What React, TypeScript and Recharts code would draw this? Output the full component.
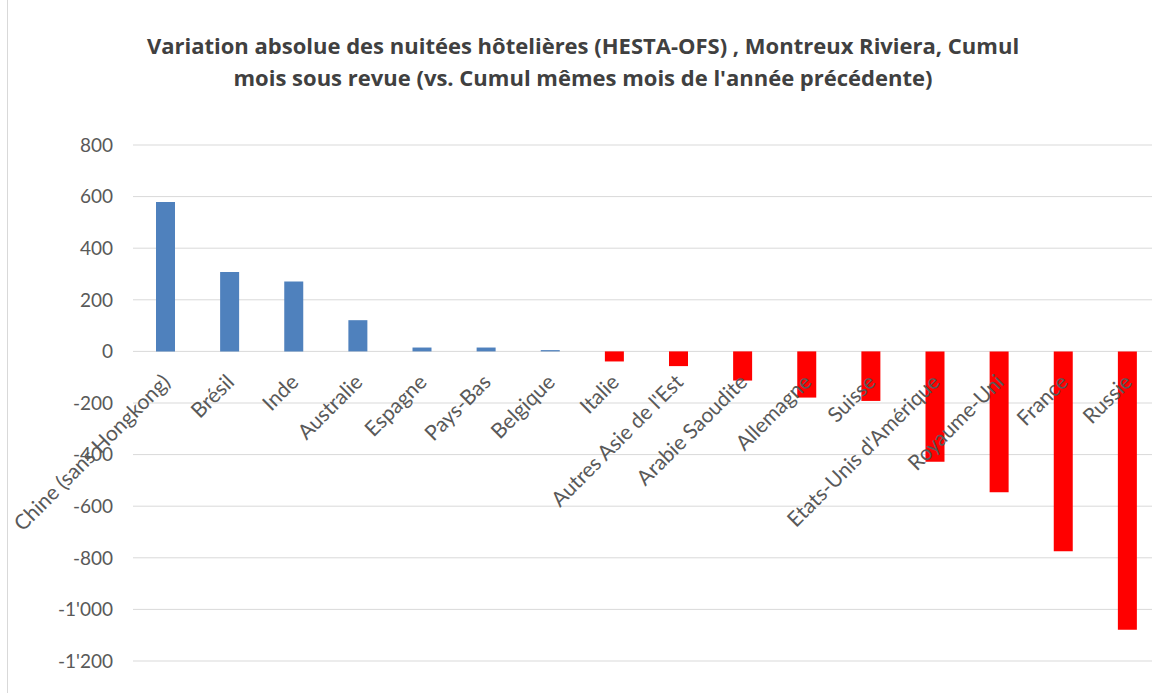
import React from "react";
import {
  BarChart,
  Bar,
  XAxis,
  YAxis,
  CartesianGrid,
  Cell,
  LabelList,
} from "recharts";

// Countries, sorted from largest gain to largest loss
const countries = [
  "Chine (sans Hongkong)",
  "Brésil",
  "Inde",
  "Australie",
  "Espagne",
  "Pays-Bas",
  "Belgique",
  "Italie",
  "Autres Asie de l'Est",
  "Arabie Saoudite",
  "Allemagne",
  "Suisse",
  "Etats-Unis d'Amérique",
  "Royaume-Uni",
  "France",
  "Russie",
];

// Absolute variation of hotel nights vs. same months of previous year
const variation = [
  579, 308, 271, 121, 15, 15, 5, -39, -57, -113, -179, -192, -428, -546, -775,
  -1079,
];

const yTicks = [-1200, -1000, -800, -600, -400, -200, 0, 200, 400, 600, 800];

const data = countries.map((name, i) => ({ name, value: variation[i] }));

const FONT = "Lato, 'Open Sans', sans-serif";
const TEXT = "#595959";

// Swiss style thousands separator: -1'000
const fmt = (v: number) => {
  const s = Math.abs(v)
    .toString()
    .replace(/\B(?=(\d{3})+(?!\d))/g, "'");
  return v < 0 ? `-${s}` : s;
};

// Category label drawn at the zero line (like Excel with axis crossing at 0)
function CategoryLabel(props: any) {
  const { x, y, width, height, index } = props;
  const top = Math.min(y, y + height);
  const bottom = Math.max(y, y + height);
  const zero = variation[index] >= 0 ? bottom : top;
  const ax = x + width / 2 + 6;
  const ay = zero + 32;
  return (
    <text
      x={ax}
      y={ay}
      textAnchor="end"
      transform={`rotate(-45 ${ax} ${ay})`}
      fontFamily={FONT}
      fontSize={21}
      fill={TEXT}
    >
      {countries[index]}
    </text>
  );
}

export default function App() {
  return (
    <div
      style={{
        position: "absolute",
        left: 0,
        top: 0,
        width: 1152,
        height: 693,
        overflow: "hidden",
        background: "#fff",
      }}
    >
      {/* chart area border on the left */}
      <div
        style={{
          position: "absolute",
          left: 7,
          top: 0,
          width: 1,
          height: 693,
          background: "#D9D9D9",
        }}
      />

      <div
        style={{
          position: "absolute",
          left: 0,
          top: 29,
          width: 1166,
          textAlign: "center",
          fontFamily: "'Open Sans', sans-serif",
          fontWeight: 700,
          fontSize: 22,
          lineHeight: "32px",
          color: "#404040",
        }}
      >
        Variation absolue des nuitées hôtelières (HESTA-OFS) , Montreux Riviera,
        Cumul
        <br />
        mois sous revue (vs. Cumul mêmes mois de l'année précédente)
      </div>

      <BarChart
        width={1172}
        height={693}
        data={data}
        margin={{ top: 145, right: 13, bottom: 32, left: 0 }}
        barSize={19}
      >
        <CartesianGrid vertical={false} stroke="#D9D9D9" />
        <XAxis dataKey="name" hide />
        <YAxis
          domain={[-1200, 800]}
          ticks={yTicks}
          tickFormatter={fmt}
          width={133}
          axisLine={false}
          tickLine={false}
          tickSize={0}
          tickMargin={20}
          tick={{ fontFamily: FONT, fontSize: 19, fill: TEXT }}
        />
        <Bar dataKey="value" isAnimationActive={false}>
          {data.map((d, i) => (
            <Cell key={i} fill={d.value >= 0 ? "#4F81BD" : "#FF0000"} />
          ))}
          <LabelList dataKey="name" content={<CategoryLabel />} />
        </Bar>
      </BarChart>
    </div>
  );
}
